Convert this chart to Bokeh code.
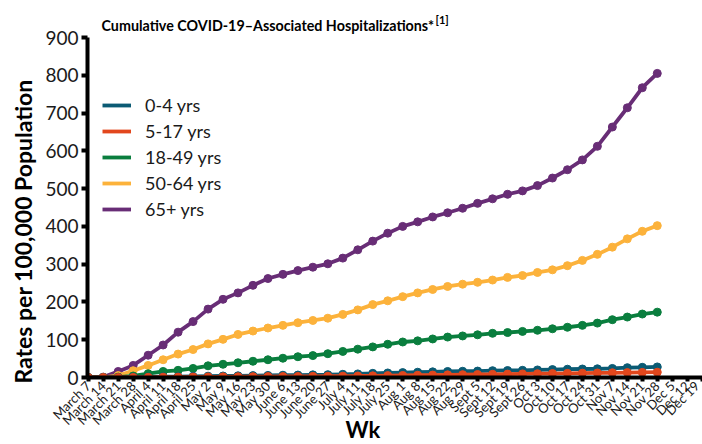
import math
from bokeh.plotting import figure
from bokeh.models import FixedTicker, Label, Legend, LegendItem, Range1d, Title
from bokeh.embed import file_html
from bokeh.resources import INLINE

# ---------------- data ----------------
weeks = ["March 7", "March 14", "March 21", "March 28", "April 4", "April 11",
         "April 18", "April 25", "May 2", "May 9", "May 16", "May 23", "May 30",
         "June 6", "June 13", "June 20", "June 27", "July 4", "July 11",
         "July 18", "July 25", "Aug 1", "Aug 8", "Aug 15", "Aug 22", "Aug 29",
         "Sept 5", "Sept 12", "Sept 19", "Sept 26", "Oct 3", "Oct 10",
         "Oct 17", "Oct 24", "Oct 31", "Nov 7", "Nov 14", "Nov 21", "Nov 28",
         "Dec 5", "Dec 12", "Dec 19"]

age_groups = ["0-4 yrs", "5-17 yrs", "18-49 yrs", "50-64 yrs", "65+ yrs"]

rate_0_4 = [0, 0, 0.3, 0.8, 1.5, 2, 2.5, 3, 3.5, 4,
            4.5, 5, 5.5, 6, 6.5, 7, 7.5, 8.5, 9.5, 11,
            12, 13, 14, 15, 16, 16.5, 17, 18, 18.5, 19,
            20, 21, 22, 22.5, 23, 24, 26, 27, 28]
rate_5_17 = [0, 0, 0, 0.2, 0.5, 0.8, 1, 1.2, 1.5, 1.7,
             2, 2.2, 2.4, 2.6, 2.8, 3, 3.3, 3.6, 4, 4.5,
             5, 5.5, 6, 6.5, 7, 7.5, 8, 8.5, 9, 9.5,
             10, 10.5, 11, 11.5, 12, 12.5, 13, 13.5, 14]
rate_18_49 = [0, 0, 1, 4, 10, 16, 19, 24, 31, 35,
              39, 43, 47, 51, 55, 58, 63, 69, 75, 81,
              88, 94, 97, 102, 107, 110, 113, 117, 119, 122,
              125, 129, 133, 138, 144, 153, 160, 168, 173]
rate_50_64 = [0, 0, 5, 18, 32, 47, 62, 74, 89, 101,
              114, 123, 131, 138, 145, 151, 157, 167, 179, 193,
              203, 214, 224, 233, 241, 247, 252, 258, 265, 270,
              278, 285, 296, 310, 326, 345, 367, 387, 402]
rate_65 = [0, 1, 16, 32, 59, 86, 120, 148, 181, 207,
           224, 244, 262, 273, 283, 292, 301, 316, 338, 361,
           382, 400, 412, 425, 436, 448, 461, 473, 485, 494,
           508, 528, 550, 576, 612, 663, 714, 767, 805]

y_ticks = [0, 100, 200, 300, 400, 500, 600, 700, 800, 900]

colors = {"0-4 yrs": "#0b5b74", "5-17 yrs": "#e2471d", "18-49 yrs": "#0a7e3e",
          "50-64 yrs": "#fcb23b", "65+ yrs": "#682d76"}
series = {"0-4 yrs": rate_0_4, "5-17 yrs": rate_5_17, "18-49 yrs": rate_18_49,
          "50-64 yrs": rate_50_64, "65+ yrs": rate_65}

FONT = "Lato"
TXT = "#1a1a1a"

# frame is 377 px tall, with 340 px for 0..900
Y_TOP = 900 * 377 / 340

p = figure(width=702, height=444, output_backend="svg", toolbar_location=None,
           x_range=Range1d(-0.05, 41.02), y_range=Range1d(0, Y_TOP),
           min_border_left=82, min_border_right=0, min_border_top=0,
           min_border_bottom=67)

p.background_fill_color = "white"
p.border_fill_color = "white"
p.outline_line_color = None
p.xgrid.grid_line_color = None
p.ygrid.grid_line_color = None

# axes
xa = p.xaxis[0]
xa.ticker = FixedTicker(ticks=list(range(len(weeks))))
xa.major_label_overrides = {i: w for i, w in enumerate(weeks)}
xa.major_label_orientation = math.pi / 4
xa.major_label_text_font = FONT
xa.major_label_text_font_size = "13px"
xa.major_label_text_color = TXT
xa.major_label_standoff = 2
xa.axis_line_width = 4
xa.axis_line_color = "black"
xa.major_tick_line_width = 4
xa.major_tick_line_color = "black"
xa.major_tick_out = 4
xa.major_tick_in = 0
xa.minor_tick_line_color = None

ya = p.yaxis[0]
ya.ticker = FixedTicker(ticks=y_ticks)
ya.bounds = (y_ticks[0], y_ticks[-1])
ya.major_label_text_font = FONT
ya.major_label_text_font_size = "19px"
ya.major_label_text_color = TXT
ya.major_label_standoff = 3
ya.axis_line_width = 4
ya.axis_line_color = "black"
ya.major_tick_line_width = 4
ya.major_tick_line_color = "black"
ya.major_tick_out = 6
ya.major_tick_in = 0
ya.minor_tick_line_color = None

# side titles
p.add_layout(Title(text="Rates per 100,000 Population", align="left", offset=-6,
                   standoff=12, text_font=FONT, text_font_style="bold",
                   text_font_size="23px", text_color="black"), "left")
p.add_layout(Title(text="Wk", align="left", offset=258, vertical_align="top",
                   standoff=-42, text_font=FONT, text_font_style="bold",
                   text_font_size="22px", text_color="black"), "below")

# series
order = ["65+ yrs", "50-64 yrs", "18-49 yrs", "0-4 yrs", "5-17 yrs"]
renderers = {}
for g in order:
    vals = series[g]
    xs = list(range(len(vals)))
    r = p.line(xs, vals, line_width=3.8, line_color=colors[g])
    p.scatter(xs, vals, size=8, fill_color=colors[g], line_color=colors[g])
    renderers[g] = r

legend = Legend(items=[LegendItem(label=g, renderers=[renderers[g]]) for g in age_groups],
                location=(15, 155))
legend.border_line_color = None
legend.background_fill_alpha = 0
legend.glyph_width = 29
legend.glyph_height = 26
legend.label_height = 26
legend.spacing = 0
legend.padding = 0
legend.margin = 0
legend.label_standoff = 14
legend.label_text_font = FONT
legend.label_text_font_size = "18px"
legend.label_text_color = TXT
p.add_layout(legend)

# chart title inside the (extended) frame
p.add_layout(Label(x=14, y=352, x_units="screen", y_units="screen",
                   text="Cumulative COVID-19\u2013Associated Hospitalizations*",
                   text_align="left", text_baseline="alphabetic",
                   text_font=FONT, text_font_style="bold", text_font_size="14.3px",
                   text_color="black"))
p.add_layout(Label(x=348, y=358, x_units="screen", y_units="screen",
                   text="[1]", text_align="left", text_baseline="alphabetic",
                   text_font=FONT, text_font_style="bold", text_font_size="11px",
                   text_color="black"))

open("out.html", "w").write(file_html(p, INLINE))
